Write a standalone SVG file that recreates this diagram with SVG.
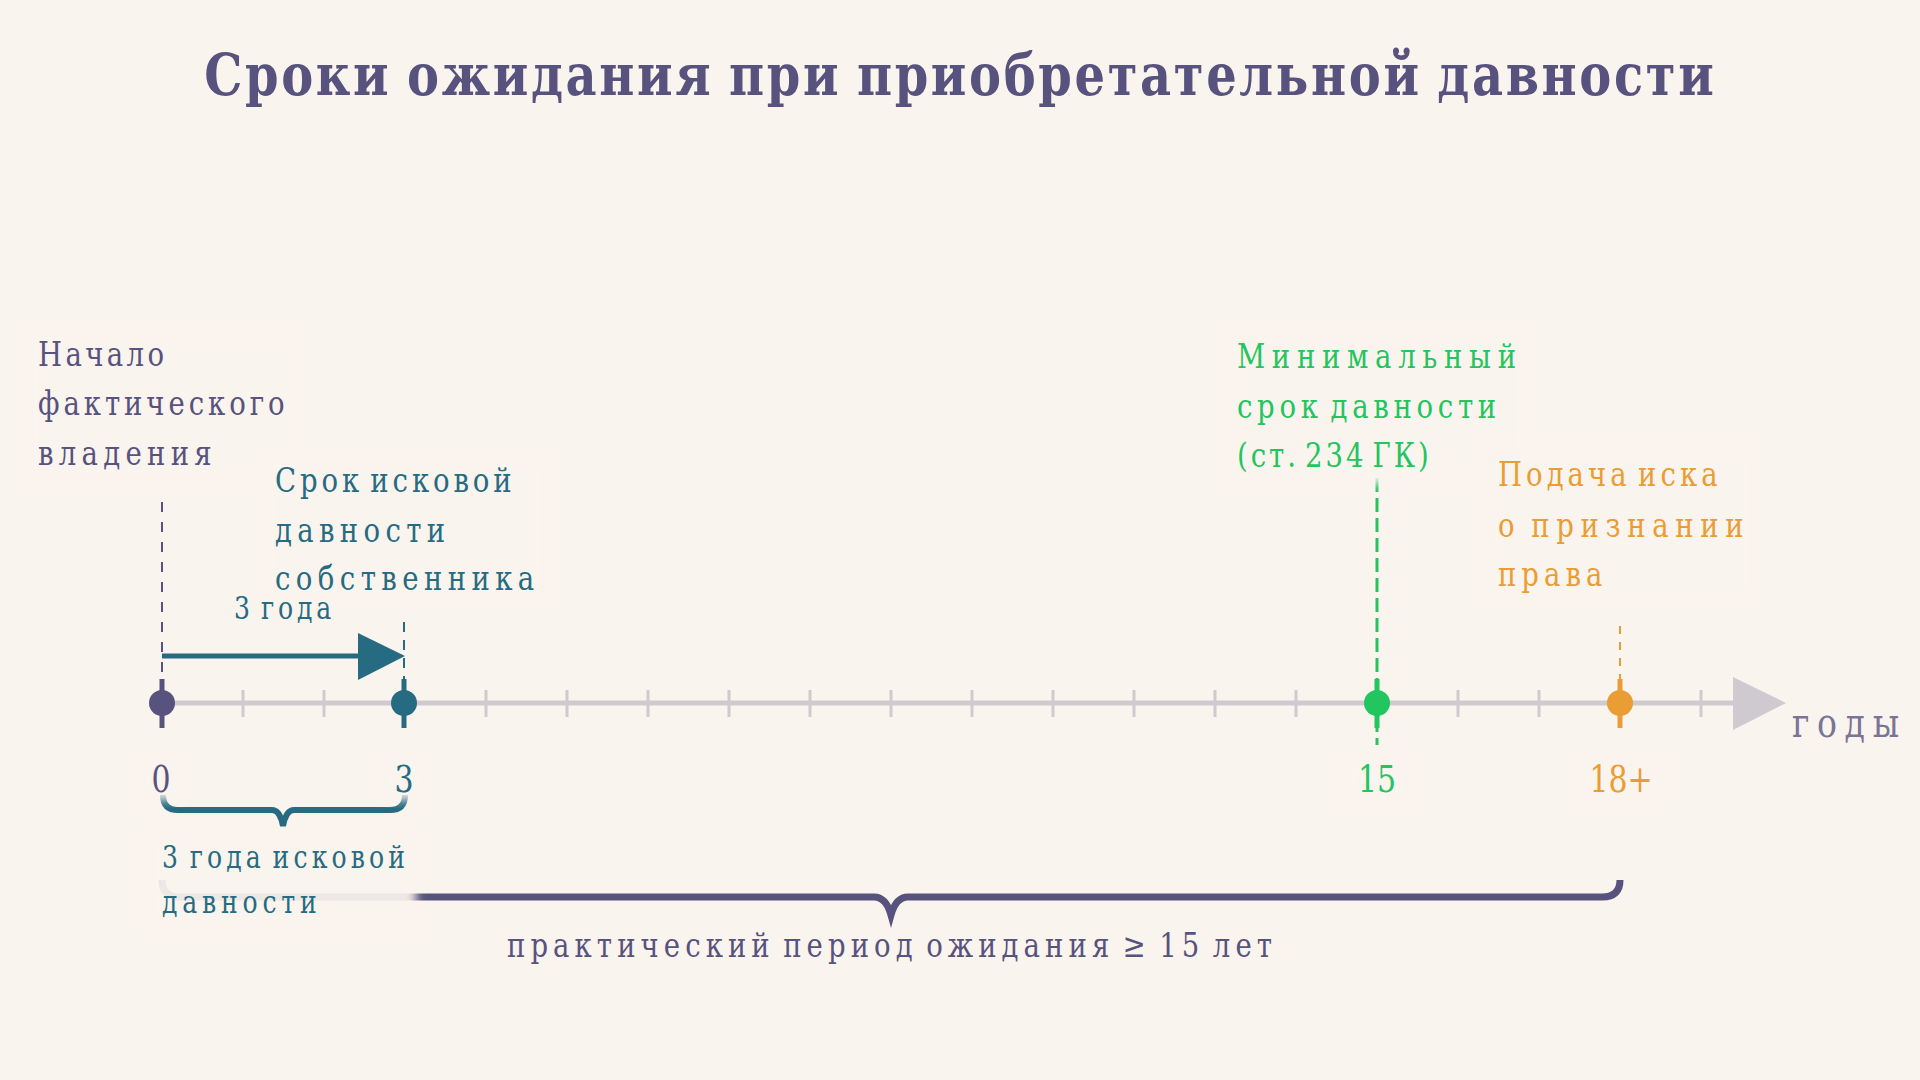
<svg xmlns="http://www.w3.org/2000/svg" width="1920" height="1080" viewBox="0 0 1920 1080">
<defs>
<filter id="soft" x="-20%" y="-20%" width="140%" height="140%"><feGaussianBlur stdDeviation="5"/></filter>
<style>
.t{font-family:"DejaVu Serif Condensed","DejaVu Serif","Liberation Serif",serif;}
.lbl{font-size:34px;word-spacing:-6px;}
.sm{font-size:31px;word-spacing:-5px;}
.num{font-size:37px;text-anchor:middle;}
.pur{fill:#58527e;}
.tea{fill:#276b82;}
.grn{fill:#22c55e;}
.org{fill:#e99d34;}
.bg{fill:#faf4ee;opacity:0.92;filter:url(#soft);}
.tick{stroke:#cfcacf;stroke-width:3;}
</style>
</defs>
<rect width="1920" height="1080" fill="#faf4ee"/>
<text class="t pur" transform="translate(959,95) scale(0.92,1)" font-size="58" font-weight="bold" text-anchor="middle" word-spacing="-4" textLength="1641" lengthAdjust="spacing">Сроки ожидания при приобретательной давности</text>

<g id="connectors">
<line x1="162" y1="502" x2="162" y2="690" stroke="#58527e" stroke-width="2" stroke-dasharray="10 10"/>
<line x1="404" y1="622" x2="404" y2="690" stroke="#276b82" stroke-width="2" stroke-dasharray="10 8"/>
<line x1="1377" y1="478" x2="1377" y2="745" stroke="#22c55e" stroke-width="3" stroke-dasharray="14 6"/>
<line x1="1620" y1="626" x2="1620" y2="690" stroke="#e99d34" stroke-width="2" stroke-dasharray="8 8"/>
<line x1="162" y1="656" x2="360" y2="656" stroke="#276b82" stroke-width="5"/>
<polygon points="358,633 405,656 358,680" fill="#276b82"/>
<path d="M163,795 Q163,810 178,810 L272,810 Q280,810 283,826 Q286,810 294,810 L390,810 Q405,810 405,795" fill="none" stroke="#276b82" stroke-width="6"/>
<path d="M162,880 Q162,897 180,897 L874,897 Q886,897 891,915 Q896,897 908,897 L1602,897 Q1620,897 1620,880" fill="none" stroke="#58527e" stroke-width="7"/>
</g>

<g id="axis">
<line x1="162" y1="703" x2="1740" y2="703" stroke="#cfcacf" stroke-width="5"/>
<polygon points="1733,677 1786,703 1733,730" fill="#cfcacf"/>
<line class="tick" x1="243" y1="690" x2="243" y2="717"/>
<line class="tick" x1="324" y1="690" x2="324" y2="717"/>
<line class="tick" x1="486" y1="690" x2="486" y2="717"/>
<line class="tick" x1="567" y1="690" x2="567" y2="717"/>
<line class="tick" x1="648" y1="690" x2="648" y2="717"/>
<line class="tick" x1="729" y1="690" x2="729" y2="717"/>
<line class="tick" x1="810" y1="690" x2="810" y2="717"/>
<line class="tick" x1="891" y1="690" x2="891" y2="717"/>
<line class="tick" x1="972" y1="690" x2="972" y2="717"/>
<line class="tick" x1="1053" y1="690" x2="1053" y2="717"/>
<line class="tick" x1="1134" y1="690" x2="1134" y2="717"/>
<line class="tick" x1="1215" y1="690" x2="1215" y2="717"/>
<line class="tick" x1="1296" y1="690" x2="1296" y2="717"/>
<line class="tick" x1="1458" y1="690" x2="1458" y2="717"/>
<line class="tick" x1="1539" y1="690" x2="1539" y2="717"/>
<line class="tick" x1="1701" y1="690" x2="1701" y2="717"/>
<text class="t" transform="translate(1792,737) scale(0.9,1)" font-size="41" fill="#7a7596" textLength="119" lengthAdjust="spacing">годы</text>
</g>

<g id="p0">
<line x1="162" y1="679" x2="162" y2="728" stroke="#58527e" stroke-width="5"/>
<circle cx="162" cy="703" r="13" fill="#58527e"/>
<rect class="bg" x="140" y="762" width="44" height="38"/>
<text class="t num pur" transform="translate(161,792) scale(0.9,1)">0</text>
</g>
<g id="p3">
<line x1="404" y1="679" x2="404" y2="728" stroke="#276b82" stroke-width="5"/>
<circle cx="404" cy="703" r="13" fill="#276b82"/>
<rect class="bg" x="382" y="762" width="44" height="38"/>
<text class="t num tea" transform="translate(404,792) scale(0.9,1)">3</text>
</g>
<g id="p15">
<line x1="1377" y1="679" x2="1377" y2="728" stroke="#22c55e" stroke-width="5"/>
<circle cx="1377" cy="703" r="13" fill="#22c55e"/>
<rect class="bg" x="1345" y="762" width="64" height="38"/>
<text class="t num grn" transform="translate(1377,792) scale(0.9,1)">15</text>
</g>
<g id="p18">
<line x1="1620" y1="679" x2="1620" y2="728" stroke="#e99d34" stroke-width="5"/>
<circle cx="1620" cy="703" r="13" fill="#e99d34"/>
<rect class="bg" x="1580" y="762" width="80" height="38"/>
<text class="t num org" transform="translate(1621,792) scale(0.9,1)">18+</text>
</g>

<g id="label-start">
<rect class="bg" x="28" y="330" width="268" height="150"/>
<text class="t lbl pur" transform="translate(38,366) scale(0.9,1)" textLength="140" lengthAdjust="spacing">Начало</text>
<text class="t lbl pur" transform="translate(38,415) scale(0.9,1)" textLength="274" lengthAdjust="spacing">фактического</text>
<text class="t lbl pur" transform="translate(38,465) scale(0.9,1)" textLength="193" lengthAdjust="spacing">владения</text>
</g>
<g id="label-owner">
<rect class="bg" x="265" y="458" width="280" height="140"/>
<text class="t lbl tea" transform="translate(275,492) scale(0.9,1)" textLength="263" lengthAdjust="spacing">Срок исковой</text>
<text class="t lbl tea" transform="translate(275,542) scale(0.9,1)" textLength="189" lengthAdjust="spacing">давности</text>
<text class="t lbl tea" transform="translate(275,590) scale(0.9,1)" textLength="288" lengthAdjust="spacing">собственника</text>
</g>
<g id="label-3years">
<text class="t sm tea" transform="translate(234,619) scale(0.9,1)" textLength="108" lengthAdjust="spacing">3 года</text>
</g>
<g id="label-min">
<rect class="bg" x="1227" y="332" width="300" height="152"/>
<text class="t lbl grn" transform="translate(1237,368) scale(0.9,1)" textLength="310" lengthAdjust="spacing">Минимальный</text>
<text class="t lbl grn" transform="translate(1237,418) scale(0.9,1)" textLength="288" lengthAdjust="spacing">срок давности</text>
<text class="t lbl grn" transform="translate(1237,467) scale(0.9,1)" textLength="213" lengthAdjust="spacing">(ст. 234 ГК)</text>
</g>
<g id="label-claim">
<rect class="bg" x="1488" y="452" width="266" height="148"/>
<text class="t lbl org" transform="translate(1498,486) scale(0.9,1)" textLength="244" lengthAdjust="spacing">Подача иска</text>
<text class="t lbl org" transform="translate(1498,537) scale(0.9,1)" textLength="273" lengthAdjust="spacing">о признании</text>
<text class="t lbl org" transform="translate(1498,586) scale(0.9,1)" textLength="116" lengthAdjust="spacing">права</text>
</g>
<g id="label-limitation">
<rect class="bg" x="150" y="836" width="266" height="90"/>
<text class="t sm tea" transform="translate(162,868) scale(0.9,1)" textLength="270" lengthAdjust="spacing">3 года исковой</text>
<text class="t sm tea" transform="translate(162,913) scale(0.9,1)" textLength="172" lengthAdjust="spacing">давности</text>
</g>
<g id="label-period">
<text class="t lbl pur" transform="translate(507,957) scale(0.9,1)" textLength="850" lengthAdjust="spacing">практический период ожидания ≥ 15 лет</text>
</g>
</svg>
